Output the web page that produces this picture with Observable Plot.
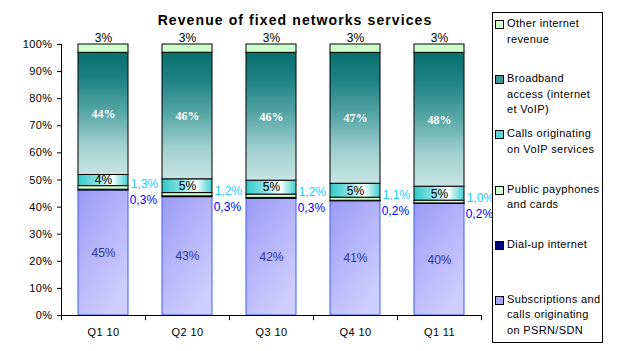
<!DOCTYPE html>
<html>
<head>
<meta charset="utf-8">
<script src="https://cdn.jsdelivr.net/npm/d3@7"></script>
<script src="https://cdn.jsdelivr.net/npm/@observablehq/plot@0.6"></script>
<style>
  html, body { margin: 0; padding: 0; background: #fff; }
  #wrap { position: relative; width: 617px; height: 351px; overflow: hidden; font-family: "Liberation Sans", Arial, sans-serif; }
  #wrap svg { position: absolute; left: 0; top: 0; }
  #wrap svg g[aria-label="y-axis tick label"] text, #wrap svg g[aria-label="x-axis tick label"] text { letter-spacing: 0.4px; }
  #title { position: absolute; left: 0; width: 590px; top: 12px; text-align: center; font-weight: bold; font-size: 14px; letter-spacing: 1.1px; color: #000; }
  #legend { position: absolute; left: 492px; top: 12px; width: 111px; height: 331px; border: 1px solid #000; box-sizing: border-box; background: #fff; }
  .item { position: relative; height: 55.2px; box-sizing: border-box; padding: 3px 0 0 14px; font-size: 11px; letter-spacing: 0.35px; line-height: 15.5px; white-space: pre; color: #000; }
  .sw { position: absolute; left: 2px; top: 7px; width: 7px; height: 7px; border: 1px solid #000; }
</style>
</head>
<body>
<div id="wrap">
  <div id="title">Revenue of fixed networks services</div>
  <div id="legend"></div>
</div>
<script>
// ---- data ----
const quarters = ["Q1 10", "Q2 10", "Q3 10", "Q4 10", "Q1 11"];
const seriesNames = [
  "Subscriptions and calls originating on PSRN/SDN",
  "Dial-up internet",
  "Public payphones and cards",
  "Calls originating on VoIP services",
  "Broadband access (internet et VoIP)",
  "Other internet revenue"
];
const legendLabels = [
  "Subscriptions and\ncalls originating\non PSRN/SDN",
  "Dial-up internet",
  "Public payphones\nand cards",
  "Calls originating\non VoIP services",
  "Broadband\naccess (internet\net VoIP)",
  "Other internet\nrevenue"
];
const psrn      = [45, 43, 42, 41, 40];
const dialup    = [0.3, 0.3, 0.3, 0.2, 0.2];
const payphones = [1.3, 1.2, 1.2, 1.1, 1.0];
const voip      = [4, 5, 5, 5, 5];
const broadband = [44, 46, 46, 47, 48];
const other     = [3, 3, 3, 3, 3];
const yTicks = [0, 0.1, 0.2, 0.3, 0.4, 0.5, 0.6, 0.7, 0.8, 0.9, 1];

const seriesValues = [psrn, dialup, payphones, voip, broadband, other];
const rows = [];
quarters.forEach((q, i) => {
  seriesNames.forEach((s, k) => rows.push({quarter: q, series: s, value: seriesValues[k][i]}));
});

// ---- styles ----
const fills = {
  [seriesNames[0]]: "url(#gPsrn)",
  [seriesNames[1]]: "#000080",
  [seriesNames[2]]: "#ccffcc",
  [seriesNames[3]]: "url(#gVoip)",
  [seriesNames[4]]: "url(#gBroad)",
  [seriesNames[5]]: "#ccffcc"
};
const swatches = ["#a8a8fa", "#000080", "#ccffcc", "#55d5d5", "#3f9494", "#ccffcc"];
const fmtInt = v => Math.round(v) + "%";
const fmtDec = v => v.toFixed(1).replace(".", ",") + "%";

const W = 617, H = 351, mL = 61, mR = 136, mT = 44, mB = 36;
const step = (W - mL - mR) / quarters.length;
const stackOpts = {x: "quarter", y: "value", z: "series", order: seriesNames, offset: "normalize"};
const lbl = (name, f) => d => d.series === name ? f(d.value) : "";

const chart = Plot.plot({
  width: W, height: H,
  marginLeft: mL, marginRight: mR, marginTop: mT, marginBottom: mB,
  style: {fontFamily: "'Liberation Sans', Arial, sans-serif", fontSize: "11px", color: "#000", background: "transparent"},
  x: {domain: quarters, paddingInner: 0.4, paddingOuter: 0.2, label: null},
  y: {domain: [0, 1], label: null},
  color: {type: "identity"},
  marks: [
    Plot.barY(rows, Plot.stackY({
      ...stackOpts,
      fill: d => fills[d.series],
      stroke: d => d.series === seriesNames[0] ? "#3a5ef0" : "#000",
      strokeWidth: 1
    })),
    // labels inside bars
    Plot.text(rows, Plot.stackY({...stackOpts, text: lbl(seriesNames[0], fmtInt), fill: "#333399", fontSize: 12})),
    Plot.text(rows, Plot.stackY({...stackOpts, text: lbl(seriesNames[3], fmtInt), fill: "#000", fontSize: 12})),
    Plot.text(rows, Plot.stackY({...stackOpts, text: lbl(seriesNames[4], fmtInt), fill: "#fff", fontSize: 12, fontWeight: "bold", fontFamily: "'Liberation Serif', 'Times New Roman', serif"})),
    Plot.text(rows, Plot.stackY2({...stackOpts, text: lbl(seriesNames[5], fmtInt), fill: "#000", fontSize: 12, dy: -6})),
    // labels beside bars
    Plot.text(rows, Plot.stackY({...stackOpts, text: lbl(seriesNames[2], fmtDec), fill: "#22ccff", fontSize: 12, textAnchor: "start", dx: step * 0.3 + 2, dy: -4})),
    Plot.text(rows, Plot.stackY({...stackOpts, text: lbl(seriesNames[1], fmtDec), fill: "#0000ff", fontSize: 12, textAnchor: "start", dx: step * 0.3 + 1, dy: 10})),
    // axes
    Plot.axisY({ticks: yTicks, tickFormat: d => Math.round(d * 100) + "%", tickSize: 4, tickPadding: 5, fontSize: 11, label: null}),
    Plot.axisX({tickSize: 0, tickPadding: 13, fontSize: 11, label: null}),
    Plot.ruleY([0], {stroke: "#000"}),
    Plot.ruleX([quarters[0]], {y1: 0, y2: 1, dx: -step / 2, stroke: "#000"}),
    Plot.ruleX(quarters, {y1: 0, y2: -0.019, dx: -step / 2, stroke: "#000"}),
    Plot.ruleX([quarters[quarters.length - 1]], {y1: 0, y2: -0.019, dx: step / 2, stroke: "#000"})
  ]
});

// gradient definitions
const defs = d3.select(chart).insert("defs", ":first-child");
function grad(id, x2, y2, stops) {
  const g = defs.append("linearGradient").attr("id", id).attr("x1", 0).attr("y1", 0).attr("x2", x2).attr("y2", y2);
  stops.forEach(([o, c]) => g.append("stop").attr("offset", o).attr("stop-color", c));
}
grad("gPsrn", 0.6, 1, [[0, "#9a9af6"], [0.45, "#b2b2fa"], [1, "#cdcdfe"]]);
grad("gVoip", 1, 0, [[0, "#2fc9c9"], [0.4, "#8fe3e3"], [0.68, "#ffffff"], [1, "#3fcece"]]);
grad("gBroad", 0, 1, [[0, "#087070"], [0.2, "#1c8080"], [0.5, "#5aa8a8"], [0.75, "#a0cfcf"], [1, "#c8e4e4"]]);

document.getElementById("wrap").insertBefore(chart, document.getElementById("title"));

// legend
const legend = document.getElementById("legend");
for (let k = seriesNames.length - 1; k >= 0; k--) {
  const it = document.createElement("div");
  it.className = "item";
  const sw = document.createElement("span");
  sw.className = "sw";
  sw.style.background = swatches[k];
  it.appendChild(sw);
  it.appendChild(document.createTextNode(legendLabels[k]));
  legend.appendChild(it);
}
</script>
</body>
</html>
